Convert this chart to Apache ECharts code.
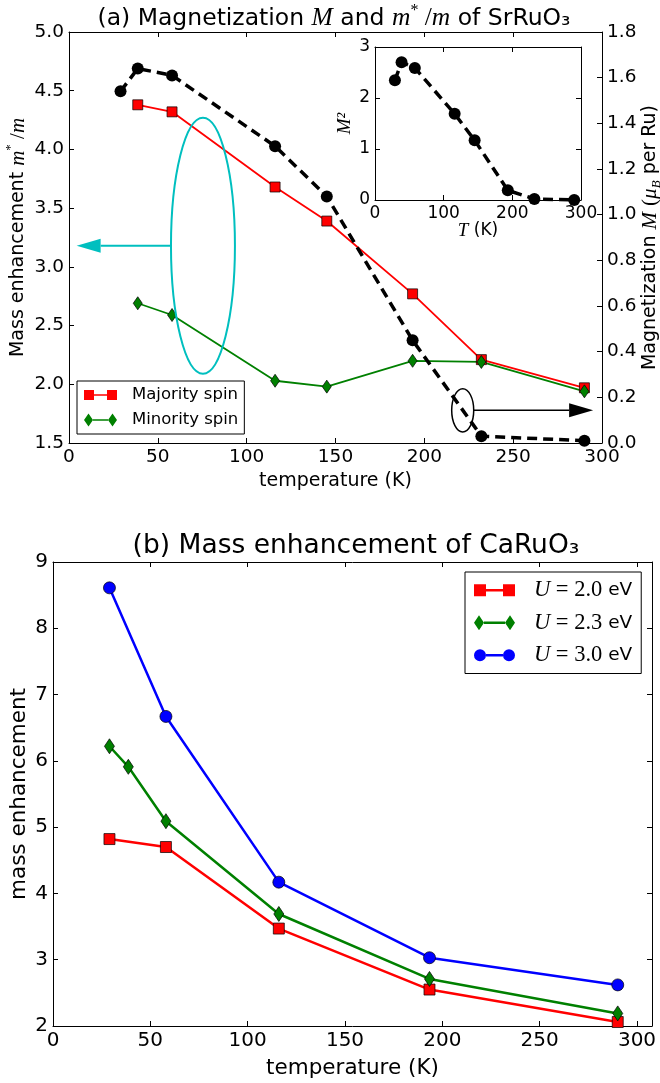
<!DOCTYPE html>
<html>
<head>
<meta charset="utf-8">
<script src="https://cdn.jsdelivr.net/npm/echarts@6.0.0/dist/echarts.min.js"></script>
<style>
html, body { margin: 0; padding: 0; background: #fff; }
#chart { width: 660px; height: 1083px; }
</style>
</head>
<body>
<div id="chart"></div>
<script>
// panel (a): SrRuO3
var tempA = [29.0, 38.7, 58.0, 116.0, 145.1, 193.4, 232.1, 290.1];
var tempSpin = [38.7, 58.0, 116.0, 145.1, 193.4, 232.1, 290.1];
var majority = [4.38, 4.32, 3.68, 3.39, 2.77, 2.21, 1.97];
var minority = [2.69, 2.59, 2.03, 1.98, 2.20, 2.19, 1.94];
var magnet = [1.54, 1.64, 1.61, 1.30, 1.08, 0.45, 0.03, 0.01];
var magnetSq = [2.35, 2.70, 2.59, 1.69, 1.17, 0.19, 0.02, 0.00];

// panel (b): CaRuO3
var tempB = [29.0, 58.0, 116.0, 193.4, 290.1];
var tempB23 = [29.0, 38.7, 58.0, 116.0, 193.4, 290.1];
var u20 = [4.82, 4.70, 3.47, 2.55, 2.06];
var u23 = [6.22, 5.91, 5.09, 3.69, 2.71, 2.19];
var u30 = [8.61, 6.67, 4.17, 3.03, 2.62];

var SANS = 'DejaVu Sans';
var MATH = 'Liberation Serif';
var XMAX_B = 307.7; // panel (b) x range runs a little past 300

function zip(xs, ys) {
  return xs.map(function (x, i) { return [x, ys[i]]; });
}

// rich text styles for the math bits
function mathRich(size, bump) {
  var lh = size + 8;
  var small = Math.round(size * 0.68);
  var m = size + (bump || 2);
  return {
    i: { fontFamily: MATH, fontStyle: 'italic', fontSize: m, lineHeight: lh, color: '#000' },
    r: { fontFamily: MATH, fontSize: m, lineHeight: lh, color: '#000' },
    sup: { fontFamily: MATH, fontSize: small, lineHeight: small, verticalAlign: 'top', color: '#000' },
    sub: { fontFamily: MATH, fontStyle: 'italic', fontSize: small, lineHeight: small, verticalAlign: 'bottom', color: '#000' },
    g: { width: 10 },
    g2: { width: 14 }
  };
}

var axisLine = { show: true, onZero: false, lineStyle: { color: '#000', width: 1 } };
var tickIn = { show: true, inside: true, length: 5, lineStyle: { color: '#000', width: 1 } };
var noSplit = { show: false };
function lab(size, fmt, hideMax) {
  return { show: true, fontSize: size, color: '#000', fontFamily: SANS, margin: 5,
           showMinLabel: true, showMaxLabel: !hideMax, formatter: fmt };
}
function nameStyle(size) {
  return { fontSize: size, color: '#000', fontFamily: SANS, lineHeight: size + 8, rich: mathRich(size) };
}
function one(v) { return v.toFixed(1); }
function mirror(grid, min, max, interval, pos) {
  return { gridIndex: grid, type: 'value', min: min, max: max, interval: interval, position: pos,
           axisLine: axisLine, axisTick: tickIn, axisLabel: { show: false }, splitLine: noSplit };
}

var chart = echarts.init(document.getElementById('chart'));

var option = {
  animation: false,
  backgroundColor: '#fff',
  textStyle: { fontFamily: SANS },
  title: [
    {
      text: '(a) Magnetization {i|M} and {i|m}{sup|*}{r| /}{i|m} of SrRuO₃',
      left: 329, top: -2, textAlign: 'center',
      textStyle: { fontFamily: SANS, fontSize: 23.5, fontWeight: 'normal', color: '#000', lineHeight: 31, rich: mathRich(23.5) }
    },
    {
      text: '(b) Mass enhancement of CaRuO₃',
      left: 351, top: 525, textAlign: 'center',
      textStyle: { fontFamily: SANS, fontSize: 26.5, fontWeight: 'normal', color: '#000', lineHeight: 32 }
    }
  ],
  grid: [
    { left: 69, top: 32, width: 533, height: 411, outerBoundsMode: 'none' },
    { left: 375, top: 47, width: 206, height: 153, show: true, backgroundColor: '#fff', borderWidth: 0, outerBoundsMode: 'none' },
    { left: 53, top: 562, width: 599, height: 464, outerBoundsMode: 'none' }
  ],
  xAxis: [
    { gridIndex: 0, type: 'value', min: 0, max: 300, interval: 50, position: 'bottom',
      axisLine: axisLine, axisTick: tickIn, splitLine: noSplit, axisLabel: lab(18.5),
      name: 'temperature (K)', nameLocation: 'middle', nameGap: 24.5, nameMoveOverlap: false,
      nameTextStyle: nameStyle(19) },
    mirror(0, 0, 300, 50, 'top'),
    { gridIndex: 1, type: 'value', min: 0, max: 300, interval: 100, position: 'bottom',
      axisLine: axisLine, axisTick: tickIn, splitLine: noSplit, axisLabel: lab(17),
      name: '{i|T} (K)', nameLocation: 'middle', nameGap: 18, nameMoveOverlap: false,
      nameTextStyle: nameStyle(17) },
    mirror(1, 0, 300, 100, 'top'),
    { gridIndex: 2, type: 'value', min: 0, max: XMAX_B, interval: 50, position: 'bottom',
      axisLine: axisLine, axisTick: tickIn, splitLine: noSplit, axisLabel: lab(20, null, true),
      name: 'temperature (K)', nameLocation: 'middle', nameGap: 28, nameMoveOverlap: false,
      nameTextStyle: nameStyle(21.5) },
    mirror(2, 0, XMAX_B, 50, 'top')
  ],
  yAxis: [
    { gridIndex: 0, type: 'value', min: 1.5, max: 5.0, interval: 0.5, position: 'left',
      axisLine: axisLine, axisTick: tickIn, splitLine: noSplit, axisLabel: lab(18.5, one),
      name: 'Mass enhancement {i|m}{sup|*}{r| /}{i|m}', nameLocation: 'middle', nameRotate: 90,
      nameGap: 37.5, nameMoveOverlap: false, nameTextStyle: nameStyle(19) },
    { gridIndex: 0, type: 'value', min: 0, max: 1.8, interval: 0.2, position: 'right',
      axisLine: axisLine, axisTick: tickIn, splitLine: noSplit, axisLabel: lab(18.5, one),
      name: 'Magnetization {i|M} {r|(}{i|μ}{sub|B} per Ru)', nameLocation: 'middle', nameRotate: 90,
      nameGap: 34.5, nameMoveOverlap: false, nameTextStyle: nameStyle(19) },
    { gridIndex: 1, type: 'value', min: 0, max: 3, interval: 1, position: 'left',
      axisLine: axisLine, axisTick: tickIn, splitLine: noSplit, axisLabel: lab(17),
      name: '{i|M²}', nameLocation: 'middle', nameRotate: 90, nameGap: 17.5, nameMoveOverlap: false,
      nameTextStyle: nameStyle(17) },
    mirror(1, 0, 3, 1, 'right'),
    { gridIndex: 2, type: 'value', min: 2, max: 9, interval: 1, position: 'left',
      axisLine: axisLine, axisTick: tickIn, splitLine: noSplit, axisLabel: lab(20),
      name: 'mass enhancement', nameLocation: 'middle', nameRotate: 90, nameGap: 19, nameMoveOverlap: false,
      nameTextStyle: nameStyle(21.5) },
    mirror(2, 2, 9, 1, 'right')
  ],
  legend: [
    {
      data: [
        { name: 'Majority spin', icon: 'path://M0,0H10V10H0Z M10,4.2H23V5.8H10Z M23,0H33V10H23Z' },
        { name: 'Minority spin', icon: 'path://M4.5,0L9,6.5L4.5,13L0,6.5Z M9,5.7H24V7.3H9Z M28.5,0L33,6.5L28.5,13L24,6.5Z' }
      ],
      left: 77, top: 381, orient: 'vertical', padding: [4, 6, 4, 7], itemGap: 5,
      itemWidth: 33, itemHeight: 13, selectedMode: false,
      borderColor: '#000', borderWidth: 1, borderRadius: 0, backgroundColor: '#fff',
      itemStyle: { borderWidth: 0 },
      textStyle: { fontSize: 16.5, color: '#000', fontFamily: SANS, lineHeight: 20, rich: mathRich(16.5) },
      formatter: function (n) { return '{g| }' + n; }
    },
    {
      data: [
        { name: 'U=2.0 eV', icon: 'path://M0,0H12V12H0Z M12,4.8H29V7.2H12Z M29,0H41V12H29Z' },
        { name: 'U=2.3 eV', icon: 'path://M5,0L10,7.5L5,15L0,7.5Z M10,6.3H31V8.7H10Z M36,0L41,7.5L36,15L31,7.5Z' },
        { name: 'U=3.0 eV', icon: 'path://M0,6A6,6 0 1,0 12,6A6,6 0 1,0 0,6Z M12,4.8H29V7.2H12Z M29,6A6,6 0 1,0 41,6A6,6 0 1,0 29,6Z' }
      ],
      left: 465, top: 572, orient: 'vertical', padding: [5, 9, 5, 9], itemGap: 6,
      itemWidth: 41, itemHeight: 15, selectedMode: false,
      borderColor: '#000', borderWidth: 1, borderRadius: 0, backgroundColor: '#fff',
      itemStyle: { borderWidth: 0 },
      textStyle: { fontSize: 18.5, color: '#000', fontFamily: SANS, lineHeight: 24, rich: mathRich(18.5, 4) },
      formatter: function (n) {
        return n.replace(/^U=([\d.]+) eV$/, '{g2| }{i|U}{r| = $1} eV');
      }
    }
  ],
  series: [
    { name: 'Majority spin', type: 'line', xAxisIndex: 0, yAxisIndex: 0, data: zip(tempSpin, majority),
      symbol: 'rect', symbolSize: 10, clip: false, z: 3,
      lineStyle: { color: '#ff0000', width: 1.8 },
      itemStyle: { color: '#ff0000', borderColor: '#000', borderWidth: 0.7 } },
    { name: 'Minority spin', type: 'line', xAxisIndex: 0, yAxisIndex: 0, data: zip(tempSpin, minority),
      symbol: 'diamond', symbolSize: [9, 13], clip: false, z: 3,
      lineStyle: { color: '#008000', width: 1.8 },
      itemStyle: { color: '#008000', borderColor: '#000', borderWidth: 0.7 } },
    { name: 'Magnetization', type: 'line', xAxisIndex: 0, yAxisIndex: 1, data: zip(tempA, magnet),
      symbol: 'circle', symbolSize: 12, clip: false, z: 4,
      lineStyle: { color: '#000', width: 3.5, type: [10, 6] },
      itemStyle: { color: '#000' } },
    { name: 'M2', type: 'line', xAxisIndex: 2, yAxisIndex: 2, data: zip(tempA, magnetSq),
      symbol: 'circle', symbolSize: 12, clip: false, z: 4,
      lineStyle: { color: '#000', width: 3.5, type: [10, 6] },
      itemStyle: { color: '#000' } },
    { name: 'U=2.0 eV', type: 'line', xAxisIndex: 4, yAxisIndex: 4, data: zip(tempB, u20),
      symbol: 'rect', symbolSize: 11, clip: false, z: 3,
      lineStyle: { color: '#ff0000', width: 2.5 },
      itemStyle: { color: '#ff0000', borderColor: '#000', borderWidth: 0.7 } },
    { name: 'U=2.3 eV', type: 'line', xAxisIndex: 4, yAxisIndex: 4, data: zip(tempB23, u23),
      symbol: 'diamond', symbolSize: [10, 15], clip: false, z: 3,
      lineStyle: { color: '#008000', width: 2.5 },
      itemStyle: { color: '#008000', borderColor: '#000', borderWidth: 0.7 } },
    { name: 'U=3.0 eV', type: 'line', xAxisIndex: 4, yAxisIndex: 4, data: zip(tempB, u30),
      symbol: 'circle', symbolSize: 12, clip: false, z: 3,
      lineStyle: { color: '#0000ff', width: 2.5 },
      itemStyle: { color: '#0000ff', borderColor: '#000', borderWidth: 0.7 } }
  ]
};

chart.setOption(option);

// annotation ellipses + arrows, placed in data units of panel (a)
function toPx(x, y, yIdx) {
  return chart.convertToPixel({ xAxisIndex: 0, yAxisIndex: yIdx }, [x, y]);
}
function marker(center, radius, tipX, yIdx, color, lw) {
  var c = toPx(center[0], center[1], yIdx);
  var rx = toPx(center[0] + radius[0], center[1], yIdx)[0] - c[0];
  var ry = c[1] - toPx(center[0], center[1] + radius[1], yIdx)[1];
  var tip = toPx(tipX, center[1], yIdx)[0];
  var dir = tip < c[0] ? -1 : 1;
  var start = c[0] + dir * rx;
  var headLen = 24, headHalf = 7;
  return [
    { type: 'ellipse', z: 50, shape: { cx: c[0], cy: c[1], rx: rx, ry: ry },
      style: { fill: null, stroke: color, lineWidth: lw } },
    { type: 'line', z: 50, shape: { x1: start, y1: c[1], x2: tip - dir * headLen, y2: c[1] },
      style: { stroke: color, lineWidth: lw } },
    { type: 'polygon', z: 50,
      shape: { points: [[tip, c[1]], [tip - dir * headLen, c[1] - headHalf], [tip - dir * headLen, c[1] + headHalf]] },
      style: { fill: color } }
  ];
}

chart.setOption({
  graphic: marker([75.4, 3.18], [18, 1.09], 4.3, 0, '#00bfbf', 2)
    .concat(marker([221.6, 0.143], [6.2, 0.095], 295, 1, '#000', 1.5))
});
</script>
</body>
</html>
